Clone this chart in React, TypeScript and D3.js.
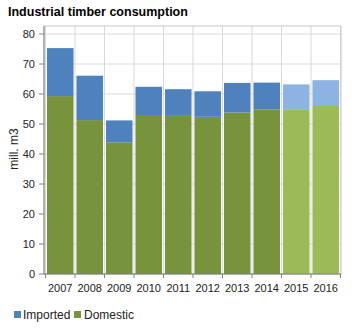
import React from "react";
import * as d3 from "d3";

const years = ["2007", "2008", "2009", "2010", "2011", "2012", "2013", "2014", "2015", "2016"];
const domestic = [59.3, 51.3, 43.9, 53.0, 52.7, 52.4, 53.8, 54.9, 54.7, 56.0];
const imported = [16.0, 14.8, 7.3, 9.4, 8.9, 8.5, 9.9, 8.9, 8.5, 8.6];
const forecast = [false, false, false, false, false, false, false, false, true, true];
const yTicks = [0, 10, 20, 30, 40, 50, 60, 70, 80];

const W = 359;
const H = 331;
const left = 44;
const right = 341;
const top = 26;
const bottom = 274;

export default function App() {
  const x = d3.scaleBand<string>().domain(years).range([45.5, 340.5]).paddingInner(0.1).paddingOuter(0.05);
  const y = d3.scaleLinear().domain([0, 80]).range([bottom, 34]);
  const step = x.step();
  const bounds = years.map((_, i) => 45.5 + step * i);
  bounds.push(340.5);
  const font = "Liberation Sans, Arial, sans-serif";
  return (
    <svg width={W} height={H} style={{ position: "absolute", left: 0, top: 0, background: "#fff" }} fontFamily={font}>
      <text x={8} y={16} fontSize={12.5} fontWeight="bold" fill="#000">Industrial timber consumption</text>
      {/* gridlines */}
      {yTicks.map((t) => (
        <line key={"h" + t} x1={left} x2={right} y1={y(t)} y2={y(t)} stroke="#d9d9d9" strokeWidth={1} />
      ))}
      {bounds.map((b, i) => (
        <line key={"v" + i} x1={b} x2={b} y1={top} y2={bottom} stroke="#d9d9d9" strokeWidth={1} />
      ))}
      <rect x={left} y={top} width={right - left} height={bottom - top} fill="none" stroke="#c8c8c8" />
      {/* bars */}
      {years.map((yr, i) => {
        const x0 = x(yr)!;
        const bw = x.bandwidth();
        const total = domestic[i] + imported[i];
        return (
          <g key={yr}>
            <rect x={x0} y={y(domestic[i])} width={bw} height={y(0) - y(domestic[i])} fill={forecast[i] ? "#9bbb59" : "#77933c"} />
            <rect x={x0} y={y(total)} width={bw} height={y(domestic[i]) - y(total)} fill={forecast[i] ? "#8db3e2" : "#4f81bd"} />
          </g>
        );
      })}
      {/* axes */}
      <line x1={left} x2={left} y1={top} y2={bottom} stroke="#808080" />
      <line x1={left} x2={right} y1={bottom} y2={bottom} stroke="#808080" />
      {yTicks.map((t) => (
        <g key={"yt" + t}>
          <line x1={39} x2={left} y1={y(t)} y2={y(t)} stroke="#808080" />
          <text x={35} y={y(t) + 4} fontSize={11} textAnchor="end" fill="#222">{t}</text>
        </g>
      ))}
      {bounds.map((b, i) => (
        <line key={"xt" + i} x1={b} x2={b} y1={bottom} y2={bottom + 4} stroke="#808080" />
      ))}
      {years.map((yr) => (
        <text key={"xl" + yr} x={x(yr)! + x.bandwidth() / 2} y={292} fontSize={11} textAnchor="middle" fill="#222">{yr}</text>
      ))}
      <text transform={`translate(18,149) rotate(-90)`} fontSize={12} textAnchor="middle" fill="#222">mill. m3</text>
      {/* legend */}
      <rect x={14} y={311} width={7} height={7} fill="#4f81bd" />
      <text x={23} y={318.5} fontSize={12} fill="#222">Imported</text>
      <rect x={74} y={311} width={7} height={7} fill="#77933c" />
      <text x={84} y={318.5} fontSize={12} fill="#222">Domestic</text>
    </svg>
  );
}
